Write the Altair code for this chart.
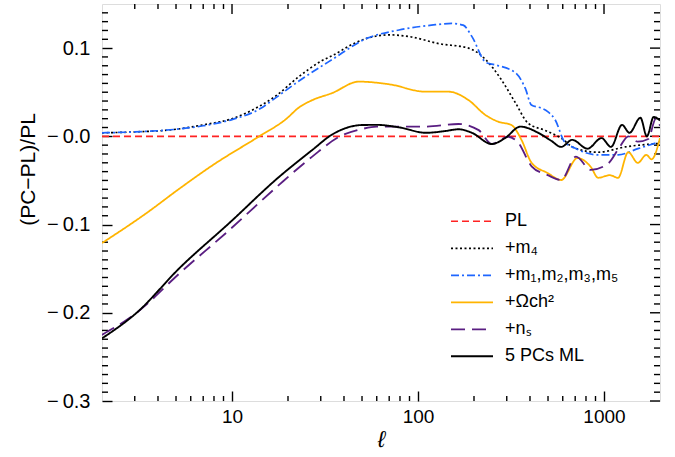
import altair as alt
import pandas as pd
import numpy as np

F = "Liberation Sans"

series = ["PL", "+m₄", "+m₁,m₂,m₃,m₅", "+Ωᴄh²", "+nₛ", "5 PCs ML"]
colors = ["#FF2222", "#000000", "#1E66FF", "#FFB400", "#5A1E82", "#000000"]
dashes = [[7, 4], [2, 2.5], [8, 3, 2, 3], [1, 0], [14, 7], [1, 0]]
widths = [1.6, 1.9, 1.8, 4.4, 1.8, 2.8]

pl_ell = [2, 2000]
pl_val = [0.0, 0.0]

m4_ell = [2, 3, 5, 7, 10, 14, 17, 23, 30, 35, 45, 53, 70, 90, 130, 187, 231, 281, 334, 390, 478, 588, 690, 930, 1300, 2000]
m4_val = [0.004, 0.005, 0.008, 0.013, 0.020, 0.034, 0.045, 0.068, 0.085, 0.092, 0.105, 0.111, 0.115, 0.113, 0.105, 0.100, 0.087, 0.064, 0.038, 0.015, 0.007, -0.002, -0.013, -0.018, -0.012, -0.008]

m1235_ell = [2, 3, 5, 7, 10, 14.6, 16.5, 23, 34.5, 53, 79, 118, 152, 175, 195, 231, 260, 334, 378, 407, 460, 498, 547, 612, 692, 930, 1190, 1522, 2000]
m1235_val = [0.004, 0.005, 0.008, 0.012, 0.019, 0.033, 0.041, 0.063, 0.087, 0.111, 0.1205, 0.126, 0.128, 0.126, 0.113, 0.084, 0.081, 0.072, 0.054, 0.0355, 0.032, 0.028, 0.0185, -0.006, -0.013, -0.021, -0.021, -0.014, -0.006]

och2_ell = [2, 3.47, 5.24, 7.9, 14, 19.5, 23, 27, 34.5, 48, 70, 110, 146, 187, 231, 270, 318, 360, 408, 498, 588, 720, 850, 930, 1075, 1190, 1350, 1520, 1690, 1800, 2000]
och2_val = [-0.121, -0.087, -0.059, -0.0325, 0.0, 0.0195, 0.033, 0.041, 0.049, 0.062, 0.059, 0.0506, 0.0506, 0.041, 0.024, 0.0166, 0.0128, -0.004, -0.030, -0.0416, -0.0495, -0.0246, -0.0348, -0.047, -0.044, -0.047, -0.018, -0.030, -0.021, -0.026, -0.002]

ns_ell = [2, 3.07, 5.24, 9.7, 17.9, 27, 37.7, 50, 60, 110, 165, 212, 249, 305, 345, 408, 498, 588, 707, 850, 1050, 1215, 1350, 1520, 1730, 1900, 2000]
ns_val = [-0.225, -0.200, -0.155, -0.106, -0.055, -0.023, -0.0005, 0.0083, 0.011, 0.011, 0.014, 0.007, -0.0087, -0.0005, -0.007, -0.034, -0.044, -0.0495, -0.023, -0.038, -0.031, -0.012, 0.0, -0.006, -0.003, 0.020, 0.012]

pc_ell = [2, 3.07, 5.24, 9.7, 17.9, 27, 34.5, 50, 60, 80, 110, 140, 165, 195, 249, 294, 355, 443, 520, 588, 675, 815, 970, 1090, 1250, 1370, 1570, 1700, 1850, 2000]
pc_val = [-0.229, -0.200, -0.149, -0.098, -0.046, -0.0155, 0.002, 0.0128, 0.013, 0.010, 0.004, 0.006, 0.008, 0.004, -0.0087, -0.002, 0.011, 0.004, -0.005, -0.012, -0.004, -0.014, -0.002, -0.012, 0.013, 0.004, 0.021, 0.0, 0.022, 0.018]

all_ell = [pl_ell, m4_ell, m1235_ell, och2_ell, ns_ell, pc_ell]
all_val = [pl_val, m4_val, m1235_val, och2_val, ns_val, pc_val]

# axis tick positions (IDL-style inward ticks on all four sides)
xmaj = [10, 100, 1000]
xminor = [3, 4, 5, 6, 7, 8, 9, 20, 30, 40, 50, 60, 70, 80, 90, 200, 300, 400, 500, 600, 700, 800, 900]
ymaj = [-0.3, -0.2, -0.1, 0.0, 0.1]
yminor = [round(v, 2) for v in np.arange(-0.29, 0.15, 0.01) if abs(round(v * 10) - v * 10) > 1e-6]

rows = []
for i, (name, ells, vals) in enumerate(zip(series, all_ell, all_val)):
    for e, v in zip(ells, vals):
        rows.append({"series": name, "ell": e, "val": v, "k": i})
df = pd.DataFrame(rows)

W, H = 558, 397
TK = 10
xs = alt.Scale(type="log", domain=[2, 2000], nice=False)
ys = alt.Scale(domain=[-0.3, 0.15], nice=False, zero=False)

xaxis = alt.Axis(
    orient="bottom", values=xmaj, format="d", offset=-TK, tickSize=TK, tickColor="black",
    tickWidth=1.4, domain=False, grid=False, labelFont=F, labelFontSize=19,
    labelColor="black", labelPadding=6, title="ℓ", titleFont=F, titleFontSize=23,
    titleFontStyle="italic", titleFontWeight="normal", titleColor="black",
    titleY=48, titleBaseline="middle")
yaxis = alt.Axis(
    orient="left", values=ymaj,
    labelExpr="datum.value == 0 ? '\u2212\u20090.0' : (datum.value < 0 ? '\u2212\u2009' + format(-datum.value, '.1f') : format(datum.value, '.1f'))",
    offset=-TK, tickSize=TK, tickColor="black", tickWidth=1.4, domain=False, grid=False,
    labelFont=F, labelFontSize=20, labelColor="black", labelPadding=12,
    title="(PC−PL)/PL", titleFont=F, titleFontSize=21, titleFontWeight="normal",
    titleColor="black", titleX=-74 - TK, titleY=165, titleBaseline="middle", titleAlign="center")

leg = alt.Legend(
    title=None, orient="none", legendX=348, legendY=204,
    symbolType="stroke", symbolSize=1764, labelFont=F, labelFontSize=18,
    labelColor="black", labelOffset=11, rowPadding=0, clipHeight=26.6, padding=0,
    labelLimit=300,
)

main = alt.Chart(df).mark_line(interpolate="monotone", clip=True).encode(
    x=alt.X("ell:Q", scale=xs, axis=xaxis),
    y=alt.Y("val:Q", scale=ys, axis=yaxis),
    color=alt.Color("series:N", scale=alt.Scale(domain=series, range=colors), sort=series, legend=leg),
    strokeDash=alt.StrokeDash("series:N", scale=alt.Scale(domain=series, range=dashes), sort=series, legend=leg),
    strokeWidth=alt.StrokeWidth("series:N", scale=alt.Scale(domain=series, range=widths), sort=series, legend=leg),
    order=alt.Order("k:Q"),
)

xt_maj = pd.DataFrame({"ell": xmaj})
xt_min = pd.DataFrame({"ell": xminor})
yt_maj = pd.DataFrame({"val": ymaj})
yt_min = pd.DataFrame({"val": yminor})


def xticks(d, length, top):
    y0, y1 = (0, length) if top else (H, H - length)
    return alt.Chart(d).mark_rule(color="black", strokeWidth=1.4).encode(
        x=alt.X("ell:Q", scale=xs, axis=xaxis), y=alt.value(y0), y2=alt.value(y1))


def yticks(d, length, right):
    x0, x1 = (W, W - length) if right else (0, length)
    return alt.Chart(d).mark_rule(color="black", strokeWidth=1.4).encode(
        y=alt.Y("val:Q", scale=ys, axis=yaxis), x=alt.value(x0), x2=alt.value(x1))


chart = alt.layer(
    xticks(xt_min, 5, False), xticks(xt_maj, TK, True), xticks(xt_min, 5, True),
    yticks(yt_min, 6, False), yticks(yt_maj, TK, True), yticks(yt_min, 6, True),
    main,
).properties(
    width=W, height=H,
    padding={"left": 102, "top": 4, "right": 15, "bottom": 56},
    autosize=alt.AutoSizeParams(type="none"),
).configure_view(stroke="black", strokeWidth=2).configure(background="white")

chart.save("out.html", embed_options={"renderer": "svg", "actions": False})
